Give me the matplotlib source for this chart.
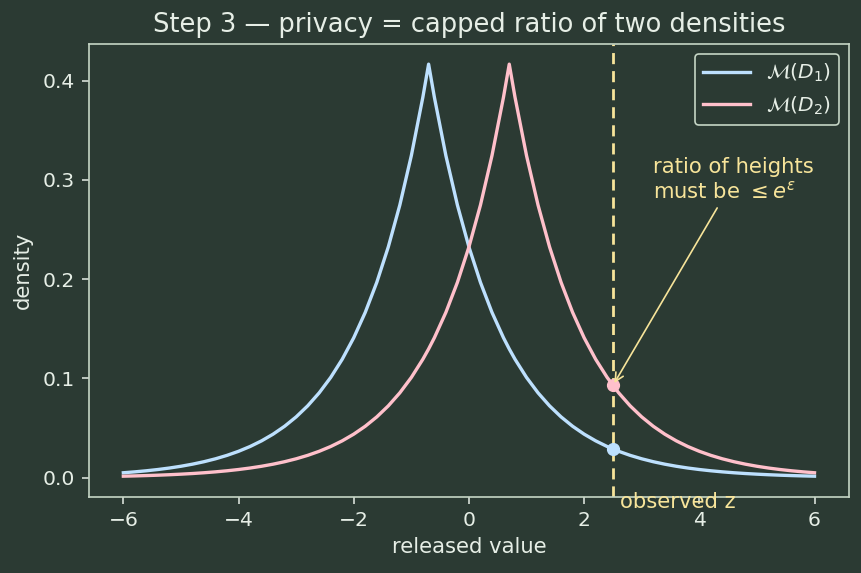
import matplotlib
matplotlib.use("Agg")
import matplotlib.pyplot as plt

# colours
BG = "#2b3a33"
FG = "#e6eee6"
SPINE = "#c5d5c5"
BLUE = "#bde0fe"
PINK = "#ffc0cb"
YELLOW = "#f7e49a"

# released values (x) and the two densities
x_vals = [-6.0, -5.8, -5.6, -5.4, -5.2, -5.0, -4.8, -4.6, -4.4, -4.2,
          -4.0, -3.8, -3.6, -3.4, -3.2, -3.0, -2.8, -2.6, -2.4, -2.2,
          -2.0, -1.8, -1.6, -1.4, -1.2, -1.0, -0.8, -0.7, -0.6, -0.4,
          -0.2, 0.0, 0.2, 0.4, 0.6, 0.7, 0.8, 1.0, 1.2, 1.4,
          1.6, 1.8, 2.0, 2.2, 2.4, 2.6, 2.8, 3.0, 3.2, 3.4,
          3.6, 3.8, 4.0, 4.2, 4.4, 4.6, 4.8, 5.0, 5.2, 5.4,
          5.6, 5.8, 6.0]

dens_d2 = [0.00157, 0.00185, 0.00219, 0.00258, 0.00305, 0.00361, 0.00426, 0.00503, 0.00594, 0.00702,
           0.00830, 0.00980, 0.01158, 0.01368, 0.01616, 0.01909, 0.02255, 0.02664, 0.03147, 0.03718,
           0.04392, 0.05188, 0.06129, 0.07241, 0.08554, 0.10105, 0.11938, 0.12975, 0.14103, 0.16661,
           0.19682, 0.23252, 0.27468, 0.32450, 0.38335, 0.41667, 0.38335, 0.32450, 0.27468, 0.23252,
           0.19682, 0.16661, 0.14103, 0.11938, 0.10105, 0.08554, 0.07241, 0.06129, 0.05188, 0.04392,
           0.03718, 0.03147, 0.02664, 0.02255, 0.01909, 0.01616, 0.01368, 0.01158, 0.00980, 0.00830,
           0.00702, 0.00594, 0.00503]

dens_d1 = [0.00503, 0.00594, 0.00702, 0.00830, 0.00980, 0.01158, 0.01368, 0.01616, 0.01909, 0.02255,
           0.02664, 0.03147, 0.03718, 0.04392, 0.05188, 0.06129, 0.07241, 0.08554, 0.10105, 0.11938,
           0.14103, 0.16661, 0.19682, 0.23252, 0.27468, 0.32450, 0.38335, 0.41667, 0.38335, 0.32450,
           0.27468, 0.23252, 0.19682, 0.16661, 0.14103, 0.12975, 0.11938, 0.10105, 0.08554, 0.07241,
           0.06129, 0.05188, 0.04392, 0.03718, 0.03147, 0.02664, 0.02255, 0.01909, 0.01616, 0.01368,
           0.01158, 0.00980, 0.00830, 0.00702, 0.00594, 0.00503, 0.00426, 0.00361, 0.00305, 0.00258,
           0.00219, 0.00185, 0.00157]

# observed output and the heights of both densities there
z_obs = 2.5
h_d1 = 0.0290
h_d2 = 0.0930

fig, ax = plt.subplots(figsize=(8.62, 5.73), dpi=100)
fig.patch.set_facecolor(BG)
ax.set_facecolor(BG)

ax.plot(x_vals, dens_d1, color=BLUE, lw=2.4, label=r"$\mathcal{M}(D_1)$")
ax.plot(x_vals, dens_d2, color=PINK, lw=2.4, label=r"$\mathcal{M}(D_2)$")

ax.axvline(z_obs, color=YELLOW, lw=2, ls="--", dashes=(4, 2.5))
ax.plot([z_obs], [h_d1], "o", color=BLUE, ms=8.5)
ax.plot([z_obs], [h_d2], "o", color=PINK, ms=8.5)

ax.annotate("ratio of heights\nmust be $\\leq e^{\\varepsilon}$",
            xy=(z_obs, h_d2), xytext=(3.2, 0.30),
            ha="left", va="center", color=YELLOW, fontsize=15.2,
            arrowprops=dict(arrowstyle="->", color=YELLOW, lw=1.2))
ax.text(z_obs + 0.13, -0.024, "observed z", color=YELLOW, fontsize=15.2,
        ha="left", va="center", clip_on=False, zorder=5)

ax.set_title("Step 3 — privacy = capped ratio of two densities", color=FG, fontsize=18.5, pad=8)
ax.set_xlabel("released value", color=FG, fontsize=15.2, labelpad=5)
ax.set_ylabel("density", color=FG, fontsize=15.2, labelpad=7)
ax.tick_params(colors=FG, labelsize=14.6, length=5, width=1.1, pad=5)
for sp in ax.spines.values():
    sp.set_color(SPINE)
    sp.set_linewidth(1.2)

leg = ax.legend(loc="upper right", fontsize=14.6, facecolor=BG, edgecolor=SPINE,
                labelcolor=FG, handlelength=2.3)
leg.get_frame().set_alpha(1)
leg.get_frame().set_linewidth(1.2)

fig.subplots_adjust(left=0.103, right=0.985, top=0.924, bottom=0.133)
fig.savefig("out.png", dpi=100, facecolor=BG)
